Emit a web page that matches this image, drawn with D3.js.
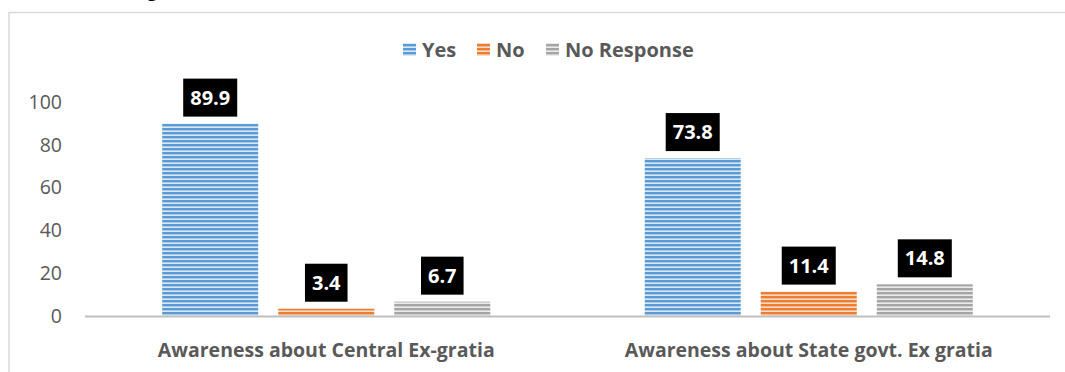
<!DOCTYPE html>
<html>
<head>
<meta charset="utf-8">
<script src="https://cdn.jsdelivr.net/npm/d3@7"></script>
<style>
  html, body { margin: 0; padding: 0; background: #fff; }
  svg { display: block; }
</style>
</head>
<body>
<svg id="chart" width="1065" height="372"></svg>
<script>
// Awareness survey data (percent of respondents)
const categories = ["Awareness about Central Ex-gratia", "Awareness about State govt. Ex gratia"];
const seriesNames = ["Yes", "No", "No Response"];
const yesValues = [89.9, 73.8];
const noValues = [3.4, 11.4];
const noResponseValues = [6.7, 14.8];
const yTicks = [0, 20, 40, 60, 80, 100];
const seriesColors = ["#5b9bd5", "#ed7d31", "#a5a5a5"];
const stripeLight = ["#a9c9ea", "#f4b88f", "#cfcfcf"];
const stripeWhite = ["#dbe9f7", "#fbdcc6", "#ebebeb"];

const seriesValues = [yesValues, noValues, noResponseValues];
const font = "'Open Sans', 'Noto Sans', sans-serif";
const textColor = "#595959";

const svg = d3.select("#chart");
const W = 1065, H = 372;

// Striped fills for the bars
const defs = svg.append("defs");
seriesNames.forEach((name, i) => {
  const p = defs.append("pattern")
    .attr("id", "stripe" + i)
    .attr("patternUnits", "userSpaceOnUse")
    .attr("width", 8).attr("height", 4);
  p.append("rect").attr("width", 8).attr("height", 4).attr("fill", seriesColors[i]);
  p.append("rect").attr("y", 2).attr("width", 8).attr("height", 1).attr("fill", stripeLight[i]);
  p.append("rect").attr("y", 3).attr("width", 8).attr("height", 1).attr("fill", stripeWhite[i]);
});

// Cropped heading from the surrounding document
svg.append("text")
  .attr("x", 147).attr("y", -4)
  .attr("font-family", "'Liberation Serif', serif")
  .attr("font-weight", "bold").attr("font-size", 20)
  .attr("fill", "#000").text("g");

// Chart area frame
svg.append("rect")
  .attr("x", 9).attr("y", 12.5)
  .attr("width", W + 20).attr("height", H + 20)
  .attr("fill", "none").attr("stroke", "#d9d9d9").attr("stroke-width", 1.5);

const plotLeft = 85, plotRight = 1050;
const y = d3.scaleLinear().domain([0, 100]).range([316, 102]);

const x0 = d3.scaleBand().domain(categories)
  .range([plotLeft, plotRight]).paddingInner(0.32).paddingOuter(0.16);
const x1 = d3.scaleBand().domain(seriesNames)
  .range([0, x0.bandwidth()]).paddingInner(0.1724).paddingOuter(0);

// Y axis labels (no axis line)
const yAxis = d3.axisLeft(y).tickValues(yTicks).tickSize(0).tickPadding(0);
const yg = svg.append("g").attr("transform", "translate(62,0)").call(yAxis);
yg.select(".domain").remove();
yg.selectAll("text")
  .attr("font-family", font).attr("font-size", 19.5)
  .attr("fill", textColor);

// Bars
const groups = svg.append("g").selectAll("g")
  .data(categories).join("g")
  .attr("transform", d => `translate(${x0(d)},0)`);

groups.each(function(cat, ci) {
  const g = d3.select(this);
  seriesNames.forEach((s, si) => {
    const v = seriesValues[si][ci];
    g.append("rect")
      .attr("x", x1(s)).attr("width", x1.bandwidth())
      .attr("y", y(v)).attr("height", y(0) - y(v))
      .attr("fill", `url(#stripe${si})`);
  });
});

// Category axis line
svg.append("line")
  .attr("x1", plotLeft).attr("x2", plotRight)
  .attr("y1", 316.5).attr("y2", 316.5)
  .attr("stroke", "#bfbfbf").attr("stroke-width", 2);

// Data labels in black boxes
groups.each(function(cat, ci) {
  const g = d3.select(this);
  seriesNames.forEach((s, si) => {
    const v = seriesValues[si][ci];
    const cx = x1(s) + x1.bandwidth() / 2;
    const bottom = y(v) - 7;
    const lbl = g.append("g");
    const t = lbl.append("text")
      .attr("x", cx).attr("y", bottom - 12)
      .attr("text-anchor", "middle")
      .attr("font-family", font).attr("font-weight", "bold")
      .attr("font-size", 20).attr("fill", "#fff")
      .text(v.toFixed(1));
    const bw = t.node().getComputedTextLength() + 14;
    lbl.insert("rect", "text")
      .attr("x", cx - bw / 2).attr("y", bottom - 38)
      .attr("width", bw).attr("height", 38)
      .attr("fill", "#000");
  });
});

// Category labels
groups.append("text")
  .attr("x", x0.bandwidth() / 2).attr("y", 357)
  .attr("text-anchor", "middle")
  .attr("font-family", font).attr("font-weight", "bold")
  .attr("font-size", 19.5).attr("fill", textColor)
  .text(d => d);

// Legend
const legendX = [403, 477, 546];
const legend = svg.append("g");
seriesNames.forEach((s, i) => {
  legend.append("rect")
    .attr("x", legendX[i]).attr("y", 43)
    .attr("width", 13).attr("height", 13)
    .attr("fill", `url(#stripe${i})`);
  legend.append("text")
    .attr("x", legendX[i] + 19).attr("y", 57)
    .attr("font-family", font).attr("font-weight", "bold")
    .attr("font-size", 20).attr("fill", textColor)
    .text(s);
});
</script>
</body>
</html>
